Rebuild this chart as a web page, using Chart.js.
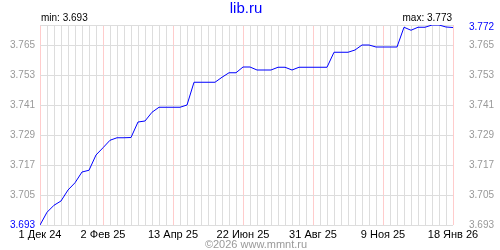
<!DOCTYPE html>
<html>
<head>
<meta charset="utf-8">
<script src="https://cdn.jsdelivr.net/npm/chart.js@4/dist/chart.umd.min.js"></script>
<style>
  html, body { margin: 0; padding: 0; background: #fff; }
  canvas { display: block; }
</style>
</head>
<body>
<canvas id="rate" width="500" height="250"></canvas>
<script>
// weekly rate, 1 Dec 24 .. 18 Jan 26
const rate = [
  3.693, 3.6981, 3.7009, 3.7026, 3.707, 3.7099, 3.7142, 3.7149, 3.721, 3.7239,
  3.7269, 3.7279, 3.7279, 3.728, 3.7342, 3.7346, 3.7381, 3.7401, 3.7401, 3.7401,
  3.7401, 3.741, 3.7501, 3.7501, 3.7501, 3.7501, 3.7521, 3.7539, 3.7539, 3.7562,
  3.7562, 3.755, 3.755, 3.755, 3.7561, 3.7561, 3.755, 3.7561, 3.7561, 3.7561,
  3.7561, 3.7561, 3.7621, 3.7621, 3.7621, 3.763, 3.765, 3.765, 3.7642, 3.7642,
  3.7642, 3.7642, 3.7721, 3.7709, 3.7721, 3.7721, 3.773, 3.773, 3.7722, 3.772
];
const xTickIdx = [0, 9, 19, 29, 39, 49, 59];
const xTickText = ["1 Дек 24", "2 Фев 25", "13 Апр 25", "22 Июн 25", "31 Авг 25", "9 Ноя 25", "18 Янв 26"];
const yTicks = [3.693, 3.705, 3.717, 3.729, 3.741, 3.753, 3.765];
const yMin = 3.693;
const yMax = 3.773;
const yLast = 3.772;

const font = { family: "'Liberation Sans', Arial, sans-serif", size: 10 };

const textPlugin = {
  id: "texts",
  afterDraw(chart) {
    const c = chart.ctx;
    const area = chart.chartArea;
    c.save();
    c.textBaseline = "alphabetic";
    c.fillStyle = "#0000ff";
    c.font = "15px 'Liberation Sans', Arial, sans-serif";
    c.textAlign = "center";
    c.fillText("lib.ru", 246, 13);
    c.fillStyle = "#000";
    c.font = "10px 'Liberation Sans', Arial, sans-serif";
    c.textAlign = "left";
    c.fillText("min: " + yMin.toFixed(3), area.left + 1, 21);
    c.textAlign = "right";
    c.fillText("max: " + yMax.toFixed(3), area.right - 1, 21);
    c.fillStyle = "#999";
    c.font = "11px 'Liberation Sans', Arial, sans-serif";
    c.textAlign = "center";
    c.fillText("©2026 www.mmnt.ru", 256, 248);
    c.restore();
  }
};

new Chart(document.getElementById("rate").getContext("2d"), {
  type: "line",
  data: {
    datasets: [{
      data: rate.map((v, i) => ({ x: i, y: v })),
      borderColor: "#0000ff",
      borderWidth: 1,
      pointRadius: 0,
      tension: 0,
      yAxisID: "y"
    }]
  },
  options: {
    responsive: false,
    animation: false,
    devicePixelRatio: 1,
    layout: { padding: { top: 25, left: 0, right: 0, bottom: 0 } },
    plugins: { legend: { display: false }, tooltip: { enabled: false } },
    scales: {
      x: {
        type: "linear",
        min: 0,
        max: rate.length - 1,
        afterBuildTicks: s => { s.ticks = rate.map((v, i) => ({ value: i })); },
        afterFit: s => { s.height = 25; },
        ticks: {
          autoSkip: false,
          maxRotation: 0,
          padding: 3,
          color: "#000",
          font: { family: font.family, size: 11 },
          callback: v => {
            const k = xTickIdx.indexOf(v);
            return k >= 0 ? xTickText[k] : "";
          }
        },
        grid: {
          drawTicks: false,
          color: ctx => xTickIdx.includes(ctx.tick && ctx.tick.value) ? "#ffcccc" : "#dddddd"
        },
        border: { display: false }
      },
      y: {
        position: "left",
        min: yMin,
        max: yMax,
        afterBuildTicks: s => { s.ticks = yTicks.concat([yMax]).map(v => ({ value: v })); },
        afterFit: s => { s.width = 40; },
        ticks: {
          padding: 5,
          font: font,
          color: ctx => ctx.tick.value === yMin ? "#0000ff" : "#999999",
          callback: v => v === yMax ? "" : v.toFixed(3)
        },
        grid: { drawTicks: false, color: "#dddddd" },
        border: { display: false }
      },
      y2: {
        position: "right",
        min: yMin,
        max: yMax,
        afterBuildTicks: s => { s.ticks = yTicks.concat([yLast]).map(v => ({ value: v })); },
        afterFit: s => { s.width = 47; },
        ticks: {
          padding: 8,
          font: font,
          color: ctx => ctx.tick.value === yLast ? "#0000ff" : "#999999",
          callback: v => v.toFixed(3)
        },
        grid: { display: false },
        border: { display: false }
      }
    }
  },
  plugins: [textPlugin]
});
</script>
</body>
</html>
